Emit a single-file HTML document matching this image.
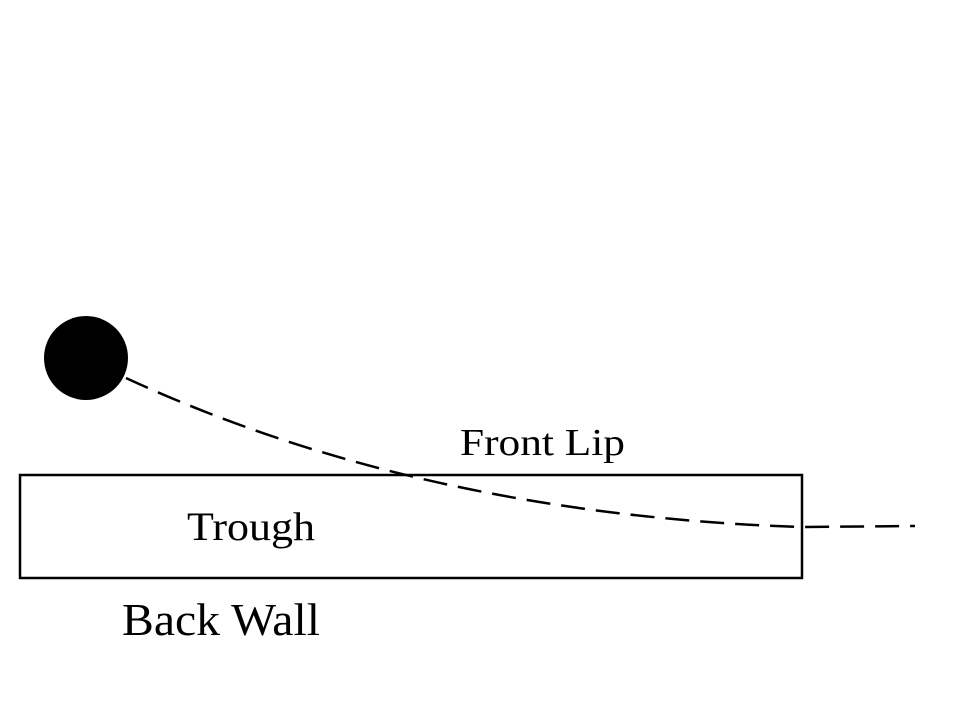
<!DOCTYPE html>
<html><head><style>html,body{margin:0;padding:0;background:#fff}svg{display:block}</style></head>
<body>
<svg width="960" height="720" viewBox="0 0 960 720" xmlns="http://www.w3.org/2000/svg">
<rect width="960" height="720" fill="#fff"/>
<circle cx="86" cy="358" r="42" fill="#000"/>
<rect x="20" y="475" width="782" height="103" fill="none" stroke="#000" stroke-width="2.5"/>
<path d="M126 378 Q 420 514 800 527 L 915 526" fill="none" stroke="#000" stroke-width="2.5" stroke-dasharray="24,11"/>
<g font-family="Liberation Serif, serif" fill="#000">
<text x="460" y="455" font-size="38" textLength="165" lengthAdjust="spacingAndGlyphs">Front Lip</text>
<text x="187" y="540" font-size="40" textLength="128" lengthAdjust="spacingAndGlyphs">Trough</text>
<text x="122" y="635" font-size="45" textLength="198" lengthAdjust="spacingAndGlyphs">Back Wall</text>
</g>
</svg>
</body></html>
